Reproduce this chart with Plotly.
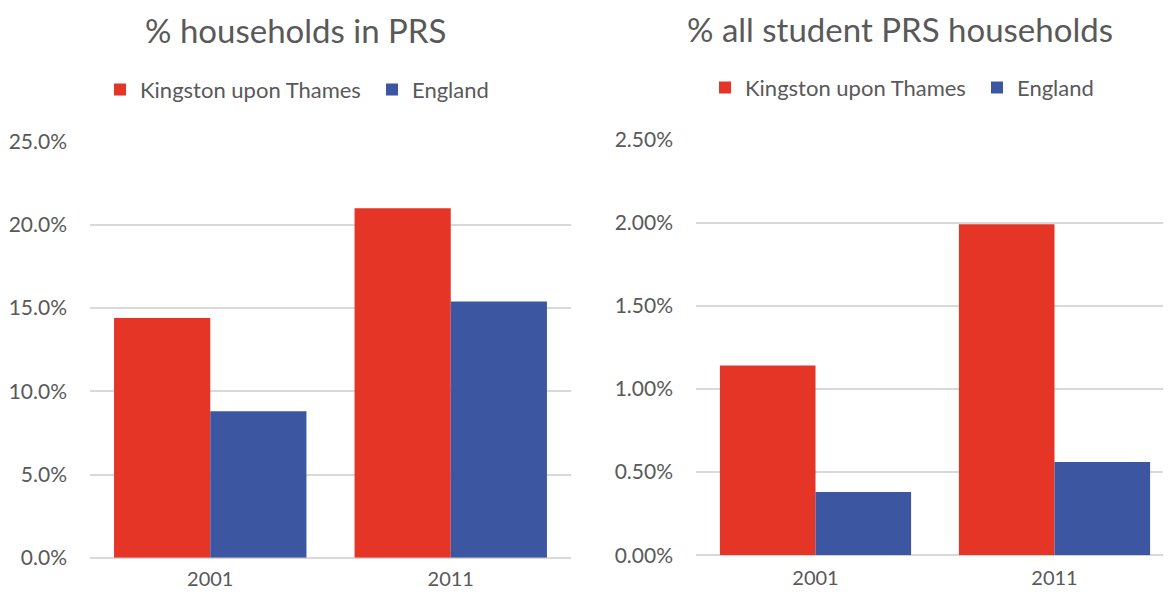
import plotly.graph_objects as go

years = ["2001", "2011"]
series_names = ["Kingston upon Thames", "England"]
prs_kingston = [14.4, 21.0]
prs_england = [8.8, 15.4]
student_kingston = [1.14, 1.99]
student_england = [0.38, 0.56]
left_ticks = [0, 5, 10, 15, 20, 25]
right_ticks = [0, 0.5, 1.0, 1.5, 2.0, 2.5]
titles = ["% households in PRS", "% all student PRS households"]

RED = "#e43526"
BLUE = "#3c56a2"
GREY = "#595959"
GRID = "#d9d9d9"
FONT = "Lato"

# page has an 8px body margin; size figure to fit the viewport exactly
OFF = 8
FW, FH = 1171 - 2 * OFF, 598 - 2 * OFF


def xp(x):
    return (x - OFF) / FW


def yp(y):
    return (FH - (y - OFF)) / FH


fig = go.Figure()
fig.add_trace(go.Bar(x=years, y=prs_kingston, name=series_names[0], marker_color=RED,
                     xaxis="x", yaxis="y", legend="legend"))
fig.add_trace(go.Bar(x=years, y=prs_england, name=series_names[1], marker_color=BLUE,
                     xaxis="x", yaxis="y", legend="legend2"))
fig.add_trace(go.Bar(x=years, y=student_kingston, name=series_names[0], marker_color=RED,
                     xaxis="x2", yaxis="y2", legend="legend3"))
fig.add_trace(go.Bar(x=years, y=student_england, name=series_names[1], marker_color=BLUE,
                     xaxis="x2", yaxis="y2", legend="legend4"))

fig.update_traces(marker_line_width=0)

axis_font = dict(family=FONT, size=21, color=GREY)
xaxis_font = dict(family=FONT, size=20, color=GREY)
legend_font = dict(family=FONT, size=22, color=GREY)
title_font = dict(family=FONT, size=33, color=GREY)

# right plot: categories ~239px wide, plot runs off the right edge
r_left, r_right = 696, 1171 - OFF
r_cat = 239.0
r_range = [-0.5, -0.5 + (r_right - r_left) / r_cat]


def legend_at(left_px, center_y):
    return dict(orientation="h", x=xp(left_px), y=yp(center_y), xanchor="left",
                yanchor="middle", font=legend_font, itemwidth=30,
                bgcolor="rgba(0,0,0,0)")


fig.update_layout(
    width=FW, height=FH,
    margin=dict(l=0, r=0, t=0, b=0, autoexpand=False),
    paper_bgcolor="white", plot_bgcolor="white",
    barmode="group", bargap=0.2, bargroupgap=0,
    font=dict(family=FONT, color=GREY),
    xaxis=dict(domain=[xp(90), xp(571)], anchor="y", tickfont=xaxis_font, automargin=False,
               showgrid=False, showline=False, ticks="", ticklabelstandoff=7),
    xaxis2=dict(domain=[xp(r_left), xp(r_right)], anchor="y2", tickfont=xaxis_font,
                automargin=False, range=r_range, showgrid=False, showline=False, ticks="",
                ticklabelstandoff=9),
    yaxis=dict(domain=[yp(557.7), yp(141.7)], anchor="x", automargin=False,
               range=[0, 25], tickvals=left_ticks,
               ticktext=[f"{v:.1f}%" for v in left_ticks],
               tickfont=axis_font, showgrid=True, gridcolor=GRID, gridwidth=1.5,
               zeroline=True, zerolinecolor=GRID, zerolinewidth=1.5,
               showline=False, ticks="", ticklabelstandoff=22),
    yaxis2=dict(domain=[yp(555.3), yp(139.3)], anchor="x2", automargin=False,
                range=[0, 2.5], tickvals=right_ticks,
                ticktext=[f"{v:.2f}%" for v in right_ticks],
                tickfont=axis_font, showgrid=True, gridcolor=GRID, gridwidth=1.5,
                zeroline=True, zerolinecolor=GRID, zerolinewidth=1.5,
                showline=False, ticks="", ticklabelstandoff=22),
    legend=legend_at(100, 89.7),
    legend2=legend_at(372, 89.7),
    legend3=legend_at(705, 87.7),
    legend4=legend_at(977, 87.7),
    annotations=[
        dict(text=titles[0], x=xp(295), y=yp(30), xref="paper", yref="paper",
             xanchor="center", yanchor="middle", showarrow=False, borderpad=0,
             font=title_font),
        dict(text=titles[1], x=xp(900), y=yp(29), xref="paper", yref="paper",
             xanchor="center", yanchor="middle", showarrow=False, borderpad=0,
             font=title_font),
    ],
    showlegend=True,
)

fig.write_html("out.html")
